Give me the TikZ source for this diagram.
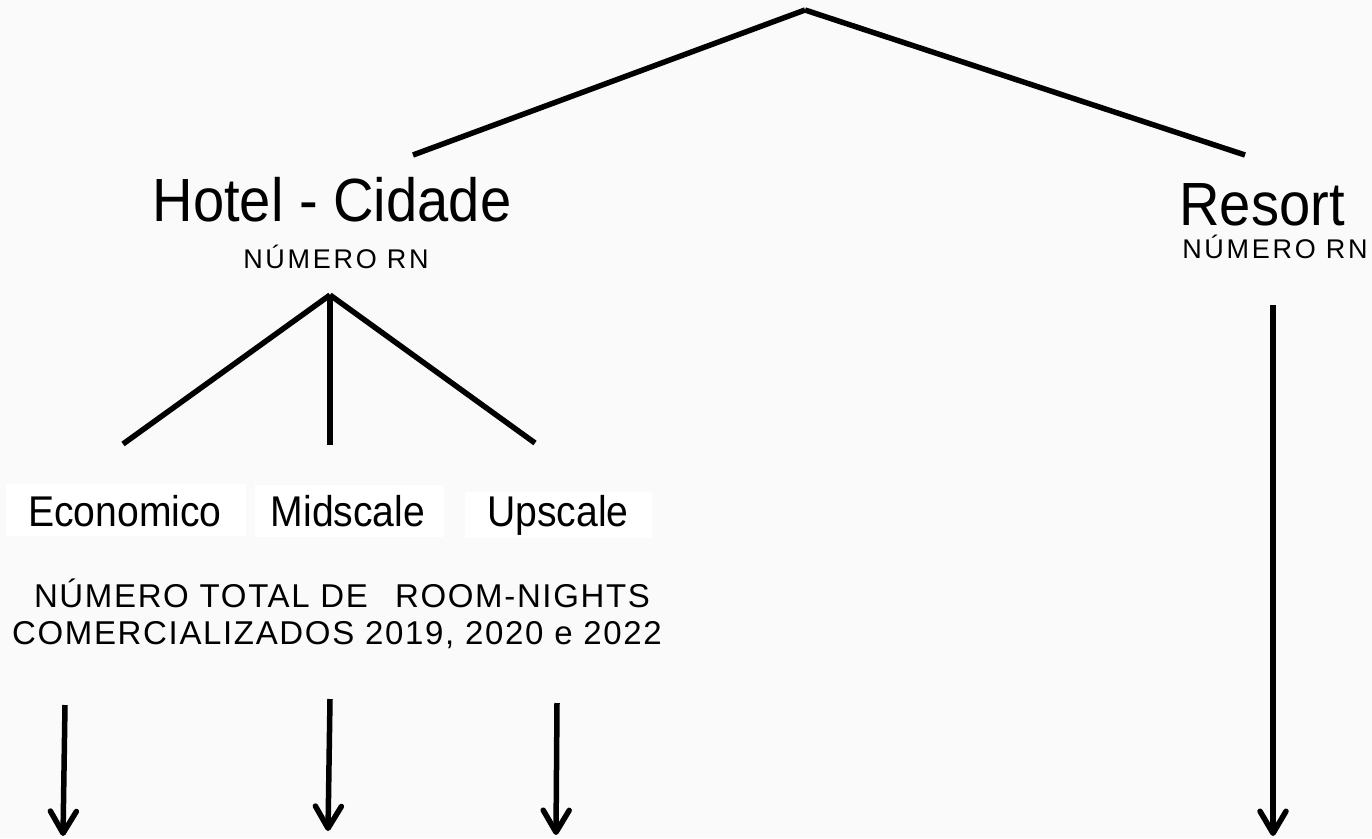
\documentclass[tikz,border=0pt]{standalone}
\usepackage{fontspec}
\setmainfont{Liberation Sans}
\newfontfamily\titlefont[FakeStretch=0.92]{Liberation Sans}
\newfontfamily\catfont[FakeStretch=0.91]{Liberation Sans}
\newfontfamily\spacedfont[LetterSpace=10]{Liberation Sans}
\newfontfamily\totalfont[LetterSpace=5]{Liberation Sans}
\usetikzlibrary{arrows.meta}
\definecolor{bg}{HTML}{FAFAFA}
\begin{document}
\begin{tikzpicture}[x=1pt,y=-1pt,
  conn/.style={line width=5.5pt},
  arr/.style={line width=5.5pt,-{Straight Barb[length=22pt,width=26pt,line cap=round,line join=round]}},
  title/.style={inner sep=0pt,anchor=base,font=\titlefont\fontsize{61}{61}\selectfont},
  sub/.style={inner sep=0pt,anchor=base,font=\spacedfont\fontsize{27}{27}\selectfont},
  catbox/.style={fill=white,draw=none},
  cat/.style={inner sep=0pt,anchor=base,font=\catfont\fontsize{43}{43}\selectfont},
  total/.style={inner sep=0pt,anchor=base,font=\totalfont\fontsize{33}{33}\selectfont}]
\fill[bg] (0,0) rectangle (1372,838);
\useasboundingbox (0,0) rectangle (1372,838);
% top
\coordinate (apex) at (805,10);
\coordinate (hotelTop) at (413,155);
\coordinate (resortTop) at (1245,155);
\draw[conn] (apex) -- (hotelTop);
\draw[conn] (apex) -- (resortTop);
% titles
\node[title] (hotel) at (332,221) {Hotel - Cidade};
\node[sub] (hnum) at (336,268) {NÚMERO RN};
\node[title] (resort) at (1262,225) {Resort};
\node[sub] (rnum) at (1275,258) {NÚMERO RN};
% hub
\coordinate (hub) at (330,295);
\coordinate (eTop) at (123,444);
\coordinate (mTop) at (330,445);
\coordinate (uTop) at (535,443);
\draw[conn] (hub) -- (eTop);
\draw[conn] (hub) -- (mTop);
\draw[conn] (hub) -- (uTop);
% category boxes
\fill[catbox] (6,484) rectangle (246,536);
\fill[catbox] (255,485) rectangle (444,537);
\fill[catbox] (465,492) rectangle (652,538);
\node[cat] (econ) at (125,526) {Economico};
\node[cat] (mid) at (348,526) {Midscale};
\node[cat] (up) at (558,526) {Upscale};
% total text
\node[total] (tot1) at (342,607) {NÚMERO TOTAL DE\ \ \,ROOM-NIGHTS};
\node[total] (tot2) at (337,644) {COMERCIALIZADOS 2019, 2020 e 2022};
% arrows
\coordinate (a1s) at (65,705); \coordinate (a1e) at (63,836);
\coordinate (a2s) at (330,699); \coordinate (a2e) at (328,831);
\coordinate (a3s) at (557,703); \coordinate (a3e) at (556,835);
\coordinate (a4s) at (1273,305); \coordinate (a4e) at (1273,836);
\draw[arr] (a1s) -- (a1e);
\draw[arr] (a2s) -- (a2e);
\draw[arr] (a3s) -- (a3e);
\draw[arr] (a4s) -- (a4e);
\end{tikzpicture}
\end{document}
